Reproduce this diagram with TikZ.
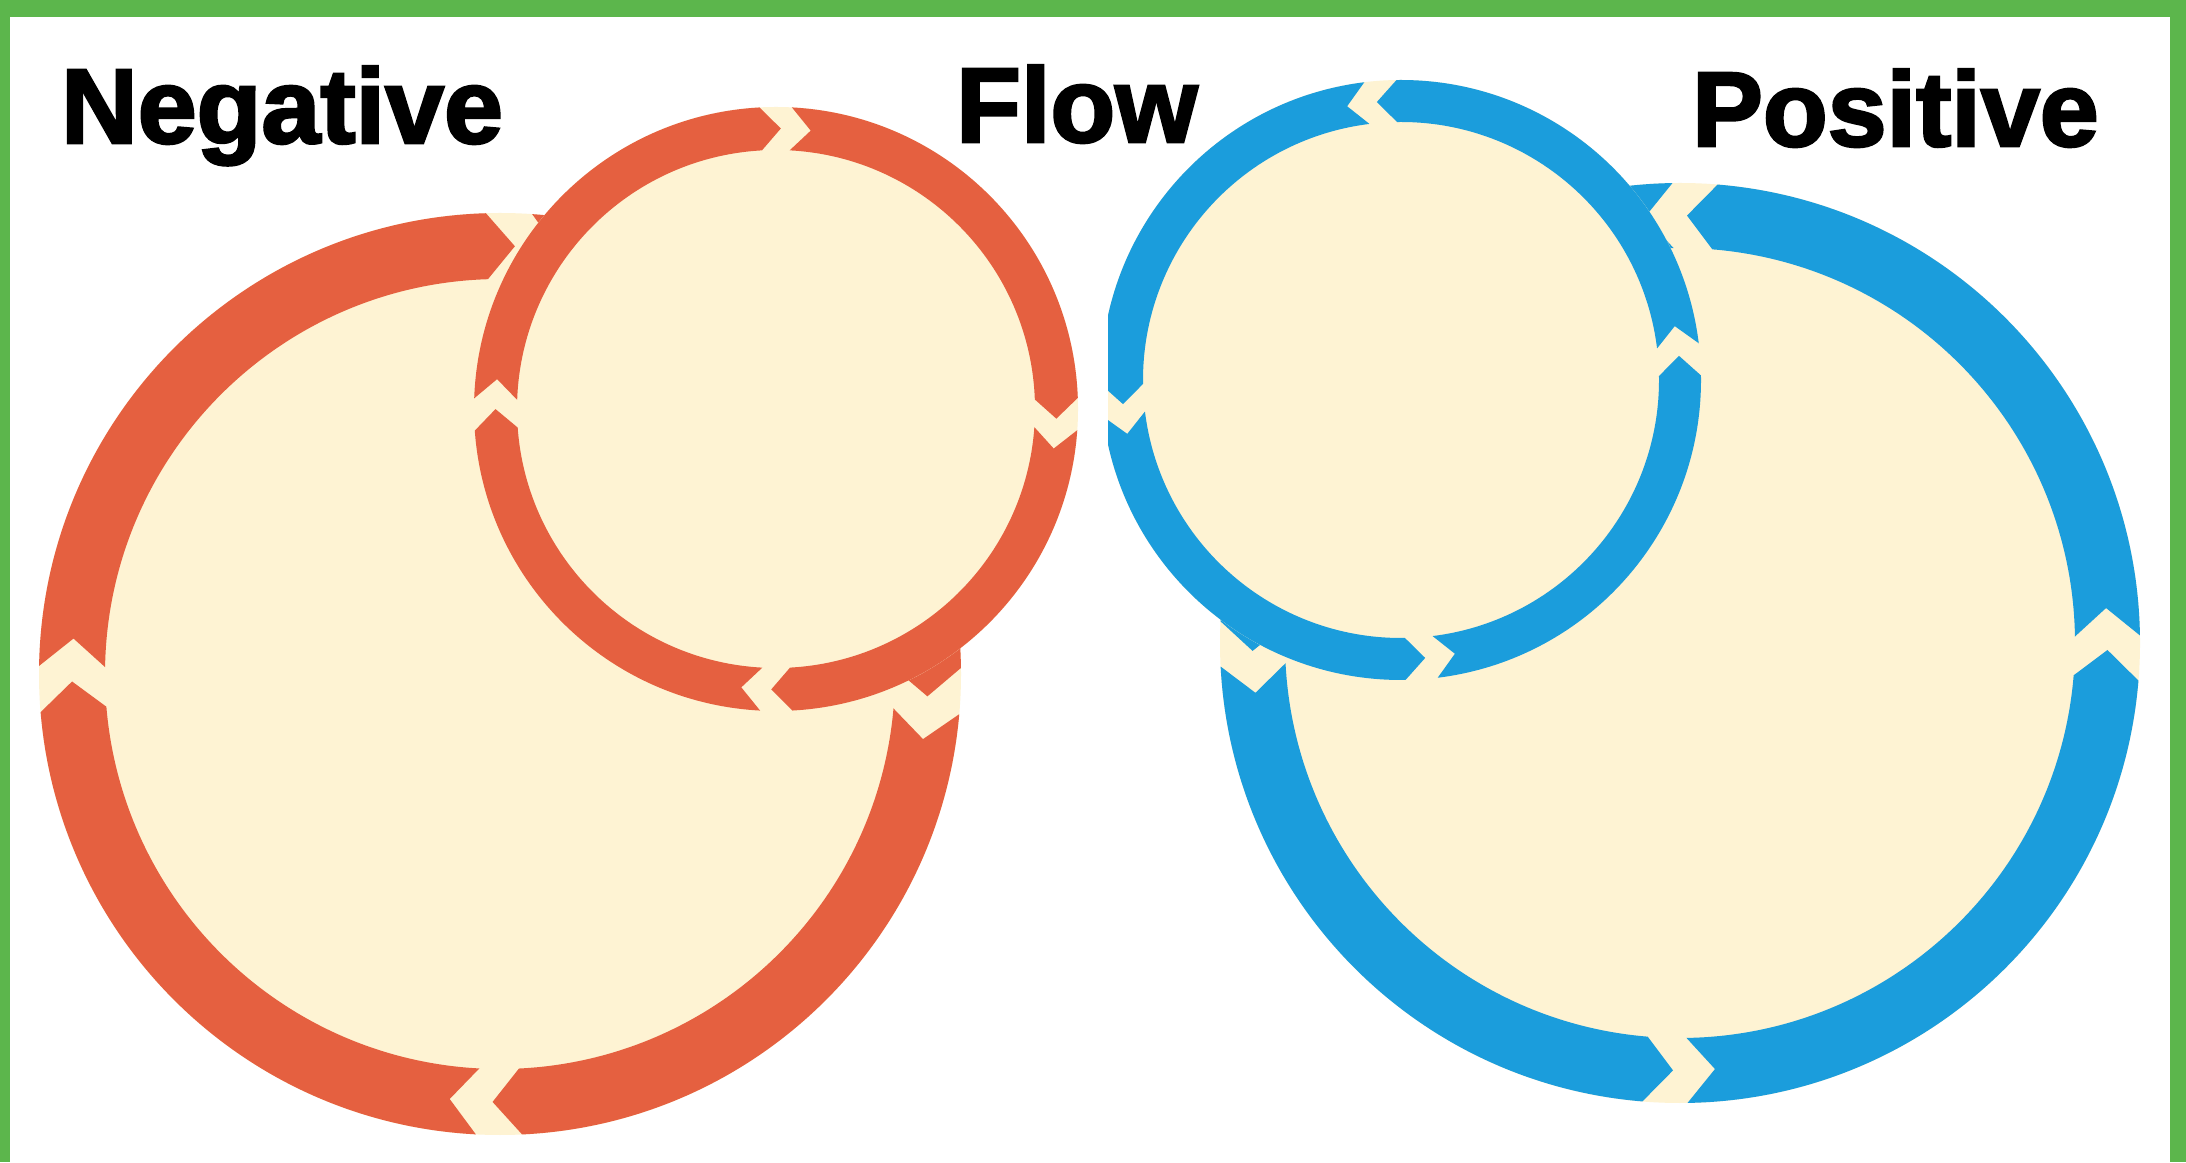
\documentclass[tikz,border=0pt]{standalone}
\usepackage{fontspec}
\setmainfont{Liberation Sans}
\newfontfamily\titlefont[FakeBold=2.5]{Liberation Sans}
\definecolor{frameg}{RGB}{92,182,76}
\definecolor{ringred}{RGB}{229,96,64}
\definecolor{ringblue}{RGB}{27,157,220}
\definecolor{cream}{RGB}{254,243,211}
% ring settings: cx, cy, outer r, inner r, direction (+1 ccw, -1 cw), gap px, depth px
\newcommand{\setring}[7]{\def\Rcx{#1}\def\Rcy{#2}\def\Ro{#3}\def\Ri{#4}\def\Rs{#5}\def\Rg{#6}\def\Rd{#7}}
\newcommand{\creamdisk}{\fill[cream] (\Rcx pt,\Rcy pt) circle[radius=\Ro pt];}
% one arrow segment from gap #2 to gap #3, fill style #1
\newcommand{\ringseg}[3]{%
  \pgfmathsetmacro\Rmid{(\Ro+\Ri)/2}%
  \pgfmathsetmacro\ag{\Rg/\Rmid*57.2958/2}%
  \pgfmathsetmacro\ad{\Rd/\Rmid*57.2958/2}%
  \pgfmathsetmacro\sA{#2+\Rs*(\ag-\ad)}%
  \pgfmathsetmacro\sN{#2+\Rs*(\ad+\ag)}%
  \pgfmathsetmacro\eA{#3-\Rs*(\ad+\ag)}%
  \pgfmathsetmacro\eT{#3+\Rs*(\ad-\ag)}%
  \fill[shift={(\Rcx pt,\Rcy pt)},#1] (\sA:\Ro pt) arc[start angle=\sA, end angle=\eA, radius=\Ro pt]
    -- (\eT:\Rmid pt) -- (\eA:\Ri pt) arc[start angle=\eA, end angle=\sA, radius=\Ri pt]
    -- (\sN:\Rmid pt) -- cycle;}
\begin{document}
\begin{tikzpicture}[x=1pt,y=1pt,
  title/.style={font=\titlefont\fontsize{106}{120}\selectfont\bfseries, inner sep=0pt, anchor=base west, text=black},
  redfill/.style={fill=ringred},
  bluefill/.style={fill=ringblue}]
\useasboundingbox (0,0) rectangle (2186,1162);
\fill[white] (0,0) rectangle (2186,1162);
% frame
\fill[frameg] (0,1145) rectangle (2186,1162);
\fill[frameg] (0,0) rectangle (10,1162);
\fill[frameg] (2170,0) rectangle (2186,1162);

% red big ring (clockwise)
\setring{500}{488}{461}{395}{-1}{43}{28}
\creamdisk
\ringseg{redfill}{87}{-4}
\ringseg{redfill}{180}{87}
\ringseg{redfill}{268}{180}
\ringseg{redfill}{356}{268}

% red small ring (clockwise)
\setring{776}{753}{302}{259}{-1}{30}{20}
\creamdisk
\ringseg{redfill}{88}{-3}
\ringseg{redfill}{179}{88}
\ringseg{redfill}{268}{179}
\ringseg{redfill}{357}{268}

% blue big ring (counter-clockwise)
\setring{1680}{519}{460}{395}{1}{42}{28}
\creamdisk
\ringseg{bluefill}{0}{90}
\ringseg{bluefill}{90}{182}
\ringseg{bluefill}{182}{270}
\ringseg{bluefill}{270}{360}

% blue small ring (counter-clockwise), cut at the left
\begin{scope}
\clip (1108,0) rectangle (2186,1162);
\setring{1401}{782}{300}{258}{1}{30}{20}
\creamdisk
\ringseg{bluefill}{6}{96}
\ringseg{bluefill}{96}{186}
\ringseg{bluefill}{186}{276}
\ringseg{bluefill}{276}{366}
\end{scope}

% titles
\node[title] (neg) at (61,1019) {Negative};
\node[title] (flow) at (956,1020) {Flow};
\node[title] (pos) at (1692,1016) {Positive};
\end{tikzpicture}
\end{document}
